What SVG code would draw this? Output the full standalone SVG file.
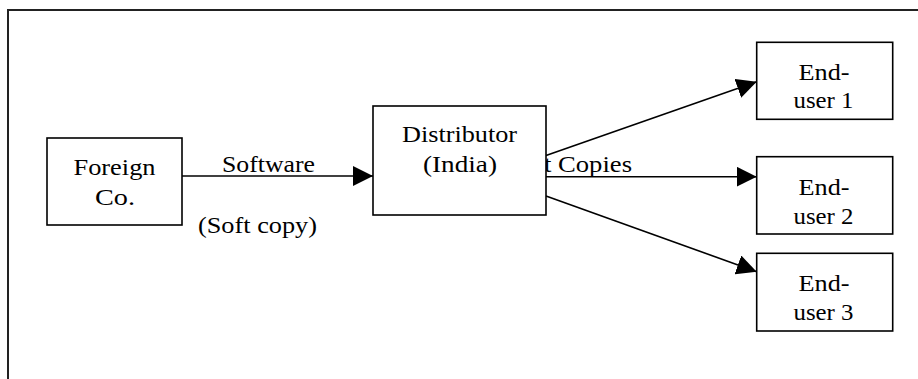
<svg xmlns="http://www.w3.org/2000/svg" width="918" height="379" viewBox="0 0 918 379">
  <defs>
    <marker id="arrow" markerUnits="userSpaceOnUse" markerWidth="20" markerHeight="20" refX="20" refY="10" orient="auto">
      <path d="M0,0 L20,10 L0,20 z" fill="#000"/>
    </marker>
    <style>
      .box { fill: #fff; stroke: #000; stroke-width: 1.6; }
      .frame { fill: none; stroke: #222; stroke-width: 2; }
      .conn { stroke: #000; stroke-width: 1.6; fill: none; marker-end: url(#arrow); }
      text { font-family: "Liberation Serif", "Times New Roman", serif; font-size: 23.5px; fill: #000; }
      .c { text-anchor: middle; }
    </style>
  </defs>
  <rect width="918" height="379" fill="#fff"/>
  <rect class="frame" x="8" y="10" width="1000" height="500"/>

  <g id="connectors">
    <line class="conn" x1="182" y1="176" x2="373" y2="176"/>
    <line class="conn" x1="546" y1="155.5" x2="756.7" y2="81.7"/>
    <line class="conn" x1="546" y1="176.7" x2="756.7" y2="176.7"/>
    <line class="conn" x1="546" y1="196" x2="756.7" y2="271.7"/>
    <text class="c" x="268.5" y="172" textLength="93" lengthAdjust="spacingAndGlyphs">Software</text>
    <text class="c" x="257.5" y="233" textLength="119" lengthAdjust="spacingAndGlyphs">(Soft copy)</text>
    <text x="632" y="171.7" text-anchor="end" textLength="88" lengthAdjust="spacingAndGlyphs">t Copies</text>
  </g>

  <g id="foreign-co">
    <rect class="box" x="47" y="138" width="135" height="87"/>
    <text class="c" x="114.5" y="175" textLength="82" lengthAdjust="spacingAndGlyphs">Foreign</text>
    <text class="c" x="115" y="205" textLength="40" lengthAdjust="spacingAndGlyphs">Co.</text>
  </g>

  <g id="distributor">
    <rect class="box" x="373" y="106" width="173" height="109"/>
    <text class="c" x="459.5" y="141.7" textLength="115" lengthAdjust="spacingAndGlyphs">Distributor</text>
    <text class="c" x="460" y="171.7" textLength="74" lengthAdjust="spacingAndGlyphs">(India)</text>
  </g>

  <g id="end-user-1">
    <rect class="box" x="756.7" y="42.3" width="136" height="77"/>
    <text class="c" x="824" y="80" textLength="51" lengthAdjust="spacingAndGlyphs">End-</text>
    <text class="c" x="823.5" y="108.3" textLength="60" lengthAdjust="spacingAndGlyphs">user 1</text>
  </g>

  <g id="end-user-2">
    <rect class="box" x="756.7" y="156.7" width="136" height="77.3"/>
    <text class="c" x="824" y="195" textLength="51" lengthAdjust="spacingAndGlyphs">End-</text>
    <text class="c" x="823.5" y="224.3" textLength="60" lengthAdjust="spacingAndGlyphs">user 2</text>
  </g>

  <g id="end-user-3">
    <rect class="box" x="756.7" y="253.3" width="136" height="77.7"/>
    <text class="c" x="824" y="290.7" textLength="51" lengthAdjust="spacingAndGlyphs">End-</text>
    <text class="c" x="823.5" y="320" textLength="60" lengthAdjust="spacingAndGlyphs">user 3</text>
  </g>
</svg>
